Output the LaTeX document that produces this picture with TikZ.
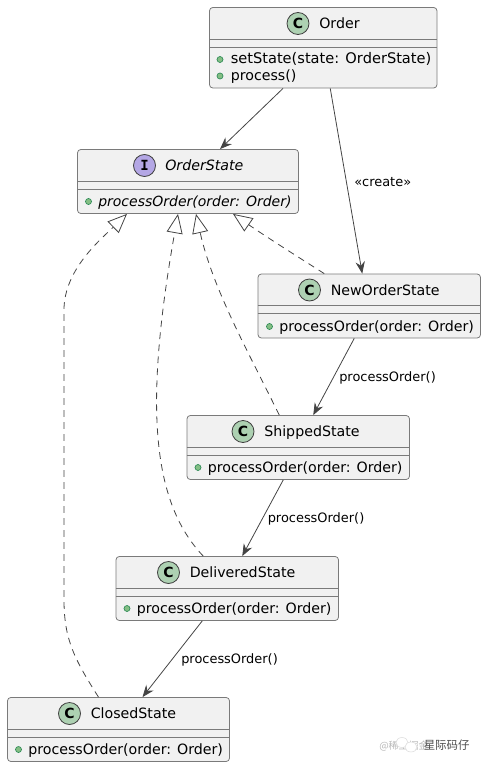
\documentclass[tikz,border=0pt]{standalone}
\usepackage{fontspec}
\setmainfont{DejaVu Sans}
\newfontfamily\spotfont{DejaVu Sans Mono}
\newfontfamily\cjk{Noto Sans CJK SC}
\usetikzlibrary{arrows.meta,calc}
\definecolor{boxfill}{HTML}{F1F1F1}
\definecolor{boxline}{HTML}{7A7A7A}
\definecolor{edgeline}{HTML}{444444}
\definecolor{spotc}{HTML}{ADD1B2}
\definecolor{spoti}{HTML}{B4A7E5}
\definecolor{dotfill}{HTML}{84BE84}
\definecolor{dotline}{HTML}{2E8B57}
\definecolor{marktext}{HTML}{B8B8B8}
\tikzset{
  classbox/.style={draw=boxline, fill=boxfill, line width=0.6pt, rounded corners=2.5pt, minimum width=#1*0.75pt, minimum height=48pt, inner sep=0pt},
  sepline/.style={draw=boxline, line width=0.6pt},
  spot/.style={draw=black!75, line width=0.6pt, circle, minimum size=16.5pt, inner sep=0pt, font=\fontsize{10.5}{12}\selectfont\bfseries},
  titletext/.style={anchor=base west, inner sep=0pt, font=\fontsize{10.65}{12}\selectfont},
  membertext/.style={anchor=base west, inner sep=0pt, font=\fontsize{10.65}{12}\selectfont},
  pubdot/.style={draw=dotline, fill=dotfill, line width=0.5pt, circle, minimum size=4.5pt, inner sep=0pt},
  linktext/.style={anchor=base west, inner sep=0pt, font=\fontsize{9.7}{11}\selectfont},
  uses/.style={draw=edgeline, line width=0.6pt, -{Stealth[length=9pt, width=7pt, inset=3pt]}},
  realizes/.style={draw=edgeline, line width=0.6pt, dash pattern=on 5pt off 4pt, -{Triangle[open, length=14.5pt, width=12pt, fill=white]}},
}
\begin{document}
\begin{tikzpicture}[x=0.75pt, y=-0.75pt]
\useasboundingbox (0,0) rectangle (486,767);
% boxes
\node[classbox=227.5, minimum height=60.4pt] (order) at (323.25,47.75) {};
\node[classbox=221] (orderstate) at (188,181.5) {};
\node[classbox=222.5] (neworder) at (369.25,306) {};
\node[classbox=222.5] (shipped) at (298.25,447.5) {};
\node[classbox=222.5] (delivered) at (227.25,588.5) {};
\node[classbox=222] (closed) at (118.5,729.5) {};
\draw[sepline] ($(order.north west)+(0,32)$) -- ($(order.north east)+(0,32)$);
\draw[sepline] ($(order.north west)+(0,40)$) -- ($(order.north east)+(0,40)$);
\draw[sepline] ($(orderstate.north west)+(0,32)$) -- ($(orderstate.north east)+(0,32)$);
\draw[sepline] ($(orderstate.north west)+(0,40)$) -- ($(orderstate.north east)+(0,40)$);
\draw[sepline] ($(neworder.north west)+(0,32)$) -- ($(neworder.north east)+(0,32)$);
\draw[sepline] ($(neworder.north west)+(0,40)$) -- ($(neworder.north east)+(0,40)$);
\draw[sepline] ($(shipped.north west)+(0,32)$) -- ($(shipped.north east)+(0,32)$);
\draw[sepline] ($(shipped.north west)+(0,40)$) -- ($(shipped.north east)+(0,40)$);
\draw[sepline] ($(delivered.north west)+(0,32)$) -- ($(delivered.north east)+(0,32)$);
\draw[sepline] ($(delivered.north west)+(0,40)$) -- ($(delivered.north east)+(0,40)$);
\draw[sepline] ($(closed.north west)+(0,32)$) -- ($(closed.north east)+(0,32)$);
\draw[sepline] ($(closed.north west)+(0,40)$) -- ($(closed.north east)+(0,40)$);
% titles
\node[spot, fill=spotc] (orderspot) at (298,23.5) {C};
\node[titletext] (ordertitle) at (319,28.5) {Order};
\node[spot, fill=spoti, font=\fontsize{10.5}{12}\spotfont\bfseries] (statespot) at (144.5,165.5) {I};
\node[titletext] (statetitle) at (165,170.5) {\itshape OrderState};
\node[spot, fill=spotc] (newspot) at (309.5,290) {C};
\node[titletext] (newtitle) at (330.5,295) {NewOrderState};
\node[spot, fill=spotc] (shippedspot) at (243,431.5) {C};
\node[titletext] (shippedtitle) at (264,436.5) {ShippedState};
\node[spot, fill=spotc] (deliveredspot) at (168.5,572.5) {C};
\node[titletext] (deliveredtitle) at (189.5,577.5) {DeliveredState};
\node[spot, fill=spotc] (closedspot) at (69.5,713.5) {C};
\node[titletext] (closedtitle) at (90.5,718.5) {ClosedState};
% members
\node[pubdot] (orderdot1) at (220,59.5) {};
\node[membertext, font=\fontsize{10.95}{12}\selectfont] (ordermember1) at (230.5,64) {setState(state: OrderState)};
\node[pubdot] (orderdot2) at (220,76) {};
\node[membertext] (ordermember2) at (230.5,80.5) {process()};
\node[pubdot] (statedot) at (88.5,201.5) {};
\node[membertext, font=\fontsize{10.5}{12}\selectfont] (statemember) at (98,206) {\itshape processOrder(order: Order)};
\node[pubdot] (newdot) at (269.5,326.5) {};
\node[membertext] (newmember) at (279,331) {processOrder(order: Order)};
\node[pubdot] (shippeddot) at (198,467.5) {};
\node[membertext] (shippedmember) at (207.5,472) {processOrder(order: Order)};
\node[pubdot] (delivereddot) at (127,608.5) {};
\node[membertext] (deliveredmember) at (136.5,613) {processOrder(order: Order)};
\node[pubdot] (closeddot) at (18.5,749.5) {};
\node[membertext] (closedmember) at (28,754) {processOrder(order: Order)};
% links
\draw[uses] ($(order.south)+(-40.25,0)$) -- ($(orderstate.north)+(32,0)$);
\draw[uses] ($(order.south)+(7,0)$) -- ($(neworder.north)+(-7,0)$);
\draw[uses] ($(neworder.south)+(-15,0)$) -- ($(shipped.north)+(15,0)$);
\draw[uses] ($(shipped.south)+(-15,0)$) -- ($(delivered.north)+(15,0)$);
\draw[uses] ($(delivered.south)+(-25,0)$) -- ($(closed.north)+(24,0)$);
\draw[realizes] ($(neworder.north)+(-45,0)$) .. controls (295,255) and (265,236) .. ($(orderstate.south)+(45,0)$);
\draw[realizes] ($(shipped.north)+(-19,0)$) .. controls (250,355) and (213,290) .. ($(orderstate.south)+(8,0)$);
\draw[realizes] ($(delivered.north)+(-24,0)$) .. controls (150,500) and (145,400) .. ($(orderstate.south)+(-10,0)$);
\draw[realizes] ($(closed.north)+(-20,0)$) .. controls (75,660) and (64,640) .. (64,600) -- (64,310) .. controls (64,270) and (100,240) .. ($(orderstate.south)+(-61,0)$);
% link labels
\node[linktext] (createlabel) at (354,186) {«create»};
\node[linktext] (newlabel) at (339,381) {processOrder()};
\node[linktext] (shippedlabel) at (267.5,522) {processOrder()};
\node[linktext] (deliveredlabel) at (181,663) {processOrder()};
% watermark
\node[anchor=base west, inner sep=0pt, text=marktext, font=\fontsize{7.5}{9}\cjk\selectfont] (markleft) at (379,749) {@稀土掘金};
\draw[marktext!50, fill=white, line width=0.4pt] (402,742.5) ellipse (6 and 5);
\draw[marktext!50, fill=white, line width=0.4pt] (411,747) ellipse (6 and 5);
\node[anchor=base west, inner sep=0pt, text=black!70, font=\fontsize{8.6}{10}\cjk\selectfont] (markright) at (423.5,749) {星际码仔};
\end{tikzpicture}
\end{document}
